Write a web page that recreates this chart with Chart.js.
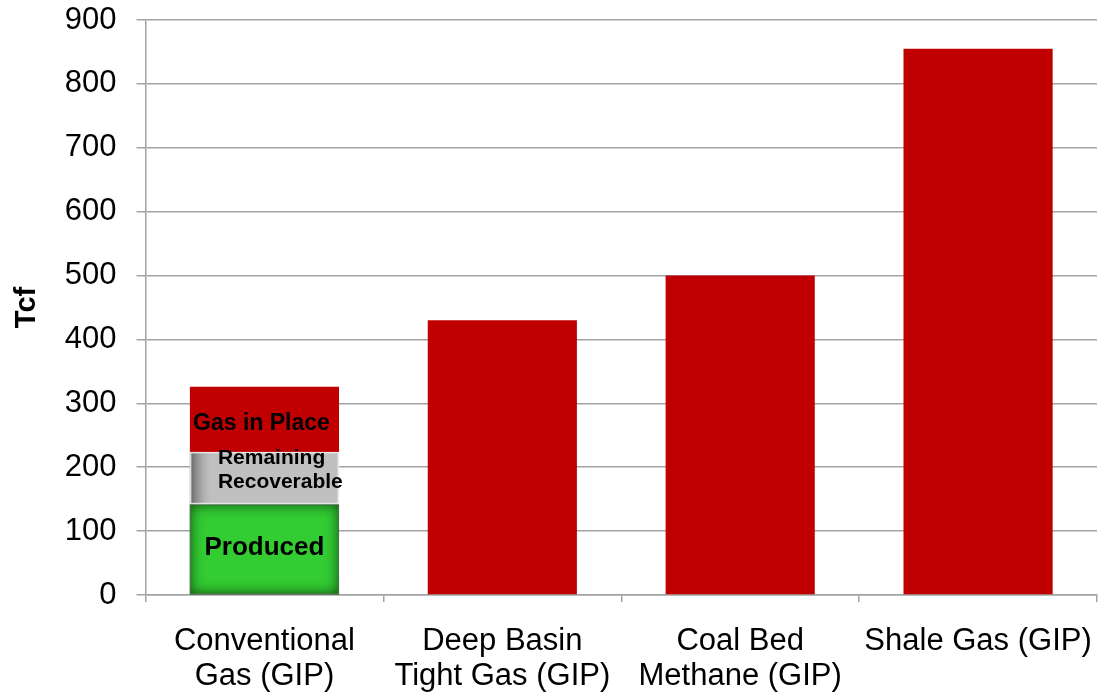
<!DOCTYPE html>
<html>
<head>
<meta charset="utf-8">
<script src="https://cdn.jsdelivr.net/npm/chart.js@4/dist/chart.umd.min.js"></script>
<style>
  html, body { margin: 0; padding: 0; background: #ffffff; }
  #wrap { width: 1111px; height: 697px; }
</style>
</head>
<body>
<div id="wrap"><canvas id="chart" width="1111" height="697"></canvas></div>
<script>
// Resource categories (two-line axis labels)
const categories = [
  ["Conventional", "Gas (GIP)"],
  ["Deep Basin", "Tight Gas (GIP)"],
  ["Coal Bed", "Methane (GIP)"],
  "Shale Gas (GIP)"
];

// Volumes in Tcf
const producedTcf   = [142, null, null, null];
const remainingTcf  = [82,  null, null, null];
const gasInPlaceTcf = [326, 430, 500, 855];   // total gas in place per category

// Y-axis range
const yMin = 0;
const yMax = 900;
const yStep = 100;

// Names written inside the stacked conventional bar
const segmentNames = ["Produced", ["Remaining", "Recoverable"], "Gas in Place"];

// Top segment of each bar = gas in place above the produced + remaining parts
const gipSegment = gasInPlaceTcf.map((v, i) => v - (producedTcf[i] || 0) - (remainingTcf[i] || 0));

const FONT = "'Liberation Sans', Arial, Helvetica, sans-serif";
const GRID = '#a3a3a3';

// Shading on the green and grey segments plus the segment captions
const segmentDecor = {
  id: 'segmentDecor',
  afterDatasetsDraw(chart) {
    const ctx = chart.ctx;

    // inner glow on the "Produced" segment
    const pBar = chart.getDatasetMeta(0).data[0];
    if (pBar) {
      const x = pBar.x - pBar.width / 2, y = pBar.y, w = pBar.width, h = pBar.base - pBar.y;
      ctx.save();
      ctx.beginPath(); ctx.rect(x, y, w, h); ctx.clip();
      ctx.shadowColor = 'rgba(10,60,10,0.95)';
      ctx.shadowBlur = 14;
      ctx.beginPath();
      ctx.rect(x - 60, y - 60, w + 120, h + 120);
      ctx.rect(x, y, w, h);
      ctx.fillStyle = '#000';
      ctx.fill('evenodd');
      ctx.restore();
      ctx.save();
      ctx.strokeStyle = 'rgba(90,110,90,0.8)';
      ctx.lineWidth = 1;
      ctx.strokeRect(x + 0.5, y + 0.5, w - 1, h - 1);
      ctx.restore();
    }

    // darker left edge on the "Remaining Recoverable" segment
    const rBar = chart.getDatasetMeta(1).data[0];
    if (rBar) {
      const x = rBar.x - rBar.width / 2, y = rBar.y, w = rBar.width, h = rBar.base - rBar.y;
      ctx.save();
      const g = ctx.createLinearGradient(x, 0, x + 24, 0);
      g.addColorStop(0, 'rgba(80,80,80,0.85)');
      g.addColorStop(1, 'rgba(192,192,192,0)');
      ctx.fillStyle = g;
      ctx.fillRect(x, y, 24, h);
      ctx.strokeStyle = 'rgba(235,235,235,0.9)';
      ctx.lineWidth = 1.5;
      ctx.strokeRect(x + 0.75, y + 0.75, w - 1.5, h - 1.5);
      ctx.restore();
    }

    // captions
    ctx.save();
    ctx.fillStyle = '#000';
    ctx.textBaseline = 'middle';
    const metas = [0, 1, 2].map(i => chart.getDatasetMeta(i).data[0]);
    if (metas[0]) {
      ctx.font = 'bold 26px ' + FONT;
      ctx.textAlign = 'center';
      ctx.fillText(segmentNames[0], metas[0].x, (metas[0].y + metas[0].base) / 2 - 1);
    }
    if (metas[1]) {
      ctx.font = 'bold 21px ' + FONT;
      ctx.textAlign = 'left';
      const left = metas[1].x - metas[1].width / 2 + 28;
      const mid = (metas[1].y + metas[1].base) / 2 - 8;
      ctx.fillText(segmentNames[1][0], left, mid - 12);
      ctx.fillText(segmentNames[1][1], left, mid + 12);
    }
    if (metas[2]) {
      ctx.font = 'bold 23px ' + FONT;
      ctx.textAlign = 'center';
      ctx.fillText(segmentNames[2], metas[2].x - 3, (metas[2].y + metas[2].base) / 2 + 4);
    }
    ctx.restore();
  }
};

const bgPlugin = {
  id: 'bg',
  beforeDraw(chart) {
    const c = chart.ctx;
    c.save();
    c.fillStyle = '#ffffff';
    c.fillRect(0, 0, chart.width, chart.height);
    c.restore();
  }
};

new Chart(document.getElementById('chart'), {
  type: 'bar',
  data: {
    labels: categories,
    datasets: [
      { label: 'Produced', data: producedTcf, backgroundColor: '#33cc33' },
      { label: 'Remaining Recoverable', data: remainingTcf, backgroundColor: '#c0c0c0' },
      { label: 'Gas in Place', data: gipSegment, backgroundColor: '#c00000' }
    ]
  },
  options: {
    responsive: false,
    animation: false,
    devicePixelRatio: 1,
    layout: { padding: { top: 3, right: 14, left: 10, bottom: 0 } },
    datasets: { bar: { barPercentage: 0.627, categoryPercentage: 1.0, borderWidth: 0 } },
    plugins: {
      legend: { display: false },
      tooltip: { enabled: false }
    },
    scales: {
      x: {
        stacked: true,
        offset: true,
        border: { display: true, color: GRID, width: 1.5 },
        grid: { display: true, offset: true, drawOnChartArea: false, drawTicks: true, tickLength: 7, color: GRID, lineWidth: 1.5 },
        ticks: {
          color: '#000',
          font: { family: FONT, size: 31, lineHeight: 1.13 },
          padding: 22,
          maxRotation: 0,
          autoSkip: false
        },
        afterFit(scale) { scale.height = 102; scale.paddingLeft = 0; scale.paddingRight = 0; }
      },
      y: {
        stacked: true,
        min: yMin,
        max: yMax,
        border: { display: true, color: GRID, width: 1.5 },
        grid: { color: GRID, lineWidth: 1.5, drawTicks: true, tickLength: 9 },
        ticks: {
          stepSize: yStep,
          color: '#000',
          font: { family: FONT, size: 31 },
          padding: 20
        },
        title: {
          display: true,
          text: 'Tcf',
          color: '#000',
          font: { family: FONT, size: 29, weight: 'bold' },
          padding: { top: 0, bottom: 0 }
        },
        afterFit(scale) { scale.paddingTop = 20; scale.paddingBottom = 0; }
      }
    }
  },
  plugins: [bgPlugin, segmentDecor]
});
</script>
</body>
</html>
